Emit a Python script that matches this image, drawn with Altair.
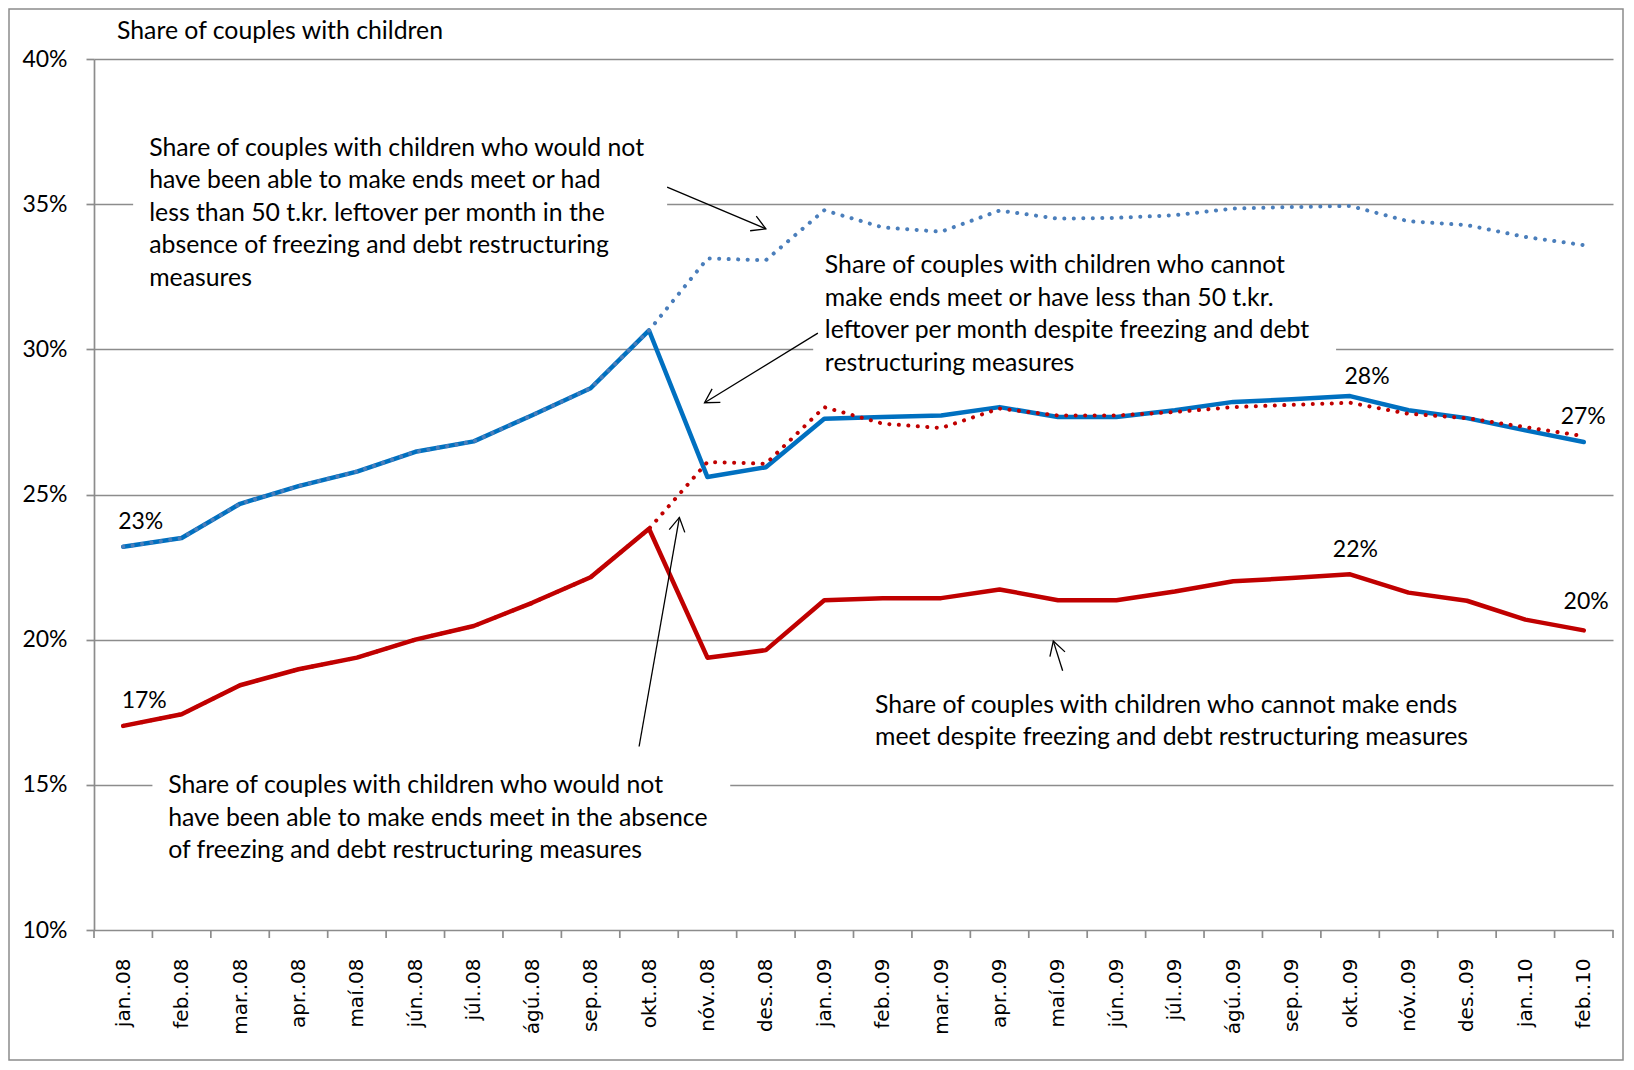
import json
import math
import altair as alt
import pandas as pd

# ---------------- data ----------------
months = ["jan..08", "feb..08", "mar..08", "apr..08", "maí.08", "jún..08", "júl..08",
          "ágú..08", "sep..08", "okt..08", "nóv..08", "des..08", "jan..09", "feb..09",
          "mar..09", "apr..09", "maí.09", "jún..09", "júl..09", "ágú..09", "sep..09",
          "okt..09", "nóv..09", "des..09", "jan..10", "feb..10"]

# would not make ends meet / < 50 t.kr. without measures (blue dotted)
blue_without = [23.20, 23.50, 24.68, 25.29, 25.79, 26.47, 26.83, 27.73, 28.66, 30.65,
                33.13, 33.07, 34.79, 34.20, 34.05, 34.78, 34.50, 34.53, 34.62, 34.85,
                34.90, 34.94, 34.41, 34.28, 33.87, 33.59]
# cannot make ends meet / < 50 t.kr. despite measures (blue solid)
blue_with = [23.20, 23.50, 24.68, 25.29, 25.79, 26.47, 26.83, 27.73, 28.66, 30.65,
             25.60, 25.94, 27.61, 27.67, 27.72, 28.01, 27.67, 27.67, 27.90, 28.19,
             28.28, 28.39, 27.90, 27.63, 27.21, 26.81]
# would not make ends meet without measures (red dotted)
red_without = [17.03, 17.43, 18.43, 18.98, 19.38, 20.00, 20.47, 21.27, 22.15, 23.82,
               26.12, 26.06, 28.01, 27.44, 27.29, 27.96, 27.72, 27.72, 27.84, 28.01,
               28.09, 28.16, 27.78, 27.63, 27.32, 27.01]
# cannot make ends meet despite measures (red solid)
red_with = [17.03, 17.43, 18.43, 18.98, 19.38, 20.00, 20.47, 21.27, 22.15, 23.82,
            19.38, 19.64, 21.36, 21.43, 21.43, 21.73, 21.36, 21.36, 21.66, 22.01,
            22.12, 22.25, 21.62, 21.34, 20.69, 20.32]

y_ticks = [10, 15, 20, 25, 30, 35, 40]

title_text = "Share of couples with children"
note_a1 = ["Share of couples with children who would not",
           "have been able to make ends meet or had",
           "less than 50 t.kr. leftover per month in the",
           "absence of freezing and debt restructuring",
           "measures"]
note_a2 = ["Share of couples with children who cannot",
           "make ends meet or have less than 50 t.kr.",
           "leftover per month despite freezing and debt",
           "restructuring measures"]
note_a3 = ["Share of couples with children who would not",
           "have been able to make ends meet in the absence",
           "of freezing and debt restructuring measures"]
note_a4 = ["Share of couples with children who cannot make ends",
           "meet despite freezing and debt restructuring measures"]

# ---------------- layout ----------------
W, H = 1519, 871
PAD = {"left": 86, "top": 51, "right": 11, "bottom": 132}
PX_X = W / len(months)
PX_Y = H / 30.0
GRID = "#8c8c8c"
FONT = "Lato"
FS = 23
FS_NOTE = 24.8
LINE_STEP = 32.5 / PX_Y
LW = 4.5

BLUE = "#0070C0"
BLUE_DOT = "#4A7EBB"
RED = "#C00000"

xs = alt.Scale(domain=[-0.5, len(months) - 0.5], nice=False, zero=False)
ys = alt.Scale(domain=[10, 40], nice=False, zero=False)

x_axis = alt.Axis(values=list(range(len(months))),
                  labelExpr=json.dumps(months, ensure_ascii=False) + "[round(datum.value)]",
                  labelAngle=270, labelAlign="right", labelBaseline="middle",
                  labelPadding=28, ticks=False, tickSize=0, domain=False, grid=False,
                  labelFont="DejaVu Sans", labelFontSize=20, labelColor="#000000",
                  labelOverlap=False, labelBound=False, labelFlush=False, title=None)
y_axis = alt.Axis(values=y_ticks, labelExpr="datum.value + '%'", grid=True,
                  gridColor=GRID, gridWidth=1.7, domain=True, domainColor=GRID,
                  domainWidth=1.7, ticks=True, tickColor=GRID, tickSize=8, tickWidth=1.7,
                  labelFont=FONT, labelFontSize=FS, labelColor="#000000", labelPadding=19,
                  labelFlush=False, labelOverlap=False, title=None)

idx = list(range(len(months)))


def X(field):
    return alt.X(field, scale=xs, axis=x_axis)


def Y(field):
    return alt.Y(field, scale=ys, axis=y_axis)


def line_layer(vals, color, width, dash=None):
    df = pd.DataFrame({"i": idx, "v": vals})
    kw = dict(color=color, strokeWidth=width, strokeCap="round", strokeJoin="round")
    if dash:
        kw["strokeDash"] = dash
    return alt.Chart(df).mark_line(**kw).encode(x=X("i:Q"), y=Y("v:Q"))


# white boxes behind annotation texts (hide gridlines)
boxes = pd.DataFrame({
    "x0": [0.17, 11.81, 0.50],
    "x1": [9.31, 20.76, 10.39],
    "y0": [31.9, 29.0, 12.1],
    "y1": [37.5, 33.4, 15.5],
})
box_layer = alt.Chart(boxes).mark_rect(color="white").encode(
    x=X("x0:Q"), x2="x1:Q", y=Y("y0:Q"), y2="y1:Q")

# annotation text lines
notes = [(note_a1, 0.445, 36.91), (note_a2, 12.01, 32.86),
         (note_a3, 0.77, 14.95), (note_a4, 12.87, 17.72)]
rows = []
for lines, nx, ny in notes:
    for k, t in enumerate(lines):
        rows.append({"x": nx, "y": ny - k * LINE_STEP, "t": t})
note_layer = alt.Chart(pd.DataFrame(rows)).mark_text(
    align="left", baseline="middle", font=FONT, fontSize=FS_NOTE, color="#000000").encode(
    x=X("x:Q"), y=Y("y:Q"), text="t:N")

# arrows (start -> tip), in data units
arrows = pd.DataFrame({
    "x0": [9.31, 11.89, 8.83, 16.08],
    "y0": [35.59, 30.56, 16.32, 18.93],
    "x1": [11.00, 9.95, 9.52, 15.92],
    "y1": [34.15, 28.16, 24.21, 19.95],
})
arrows["ang"] = [
    (math.degrees(math.atan2((r.x1 - r.x0) * PX_X, (r.y1 - r.y0) * PX_Y)) + 360) % 360
    for r in arrows.itertuples()]
arrow_lines = alt.Chart(arrows).mark_rule(color="#000000", strokeWidth=1.3).encode(
    x=X("x0:Q"), x2="x1:Q", y=Y("y0:Q"), y2="y1:Q")
arrow_heads = alt.Chart(arrows).mark_point(
    shape="M -0.5 0.87 L 0 0 L 0.5 0.87", filled=False, color="#000000",
    strokeWidth=1.3, size=1000, opacity=1).encode(
    x=X("x1:Q"), y=Y("y1:Q"), angle=alt.Angle("ang:Q", scale=None))

# data labels
label_spec = [(blue_with, 0, 0.30, 24.07), (red_with, 0, 0.36, 17.90),
              (blue_with, 21, 21.29, 29.06), (red_with, 21, 21.09, 23.10),
              (blue_with, 25, 24.99, 27.68), (red_with, 25, 25.04, 21.31)]
labels = pd.DataFrame([{"x": lx, "y": ly, "t": f"{round(s[m])}%"}
                       for s, m, lx, ly in label_spec])
label_layer = alt.Chart(labels).mark_text(
    align="center", baseline="middle", font=FONT, fontSize=FS, color="#000000").encode(
    x=X("x:Q"), y=Y("y:Q"), text="t:N")

# x-axis tick marks at category boundaries
bounds = pd.DataFrame({"b": [k - 0.5 for k in range(len(months) + 1)]})
tick_layer = alt.Chart(bounds).mark_rule(color=GRID, strokeWidth=1.7).encode(
    x=X("b:Q"), y=alt.value(H), y2=alt.value(H + 8))

one = pd.DataFrame({"a": [0]})
title_layer = alt.Chart(one).mark_text(
    align="left", baseline="middle", font=FONT, fontSize=FS_NOTE, color="#000000",
    text=title_text).encode(x=alt.value(23), y=alt.value(-27))
frame_layer = alt.Chart(one).mark_rect(
    fillOpacity=0, stroke="#8c8c8c", strokeWidth=1.5).encode(
    x=alt.value(-85), x2=alt.value(W + 10), y=alt.value(-50), y2=alt.value(H + 130))

chart = alt.layer(
    box_layer,
    tick_layer,
    line_layer(blue_with, BLUE, LW),
    line_layer(blue_without, BLUE_DOT, LW - 0.5, dash=[0.1, 9.4]),
    line_layer(red_with, RED, LW),
    line_layer(red_without, RED, LW - 0.5, dash=[0.1, 9.4]),
    note_layer,
    arrow_lines,
    arrow_heads,
    label_layer,
    title_layer,
    frame_layer,
).properties(
    width=W, height=H,
    autosize=alt.AutoSizeParams(type="none"),
    padding=PAD,
    background="white",
).configure_view(stroke=None)

chart.save("out.html", embed_options={"renderer": "svg", "actions": False})
